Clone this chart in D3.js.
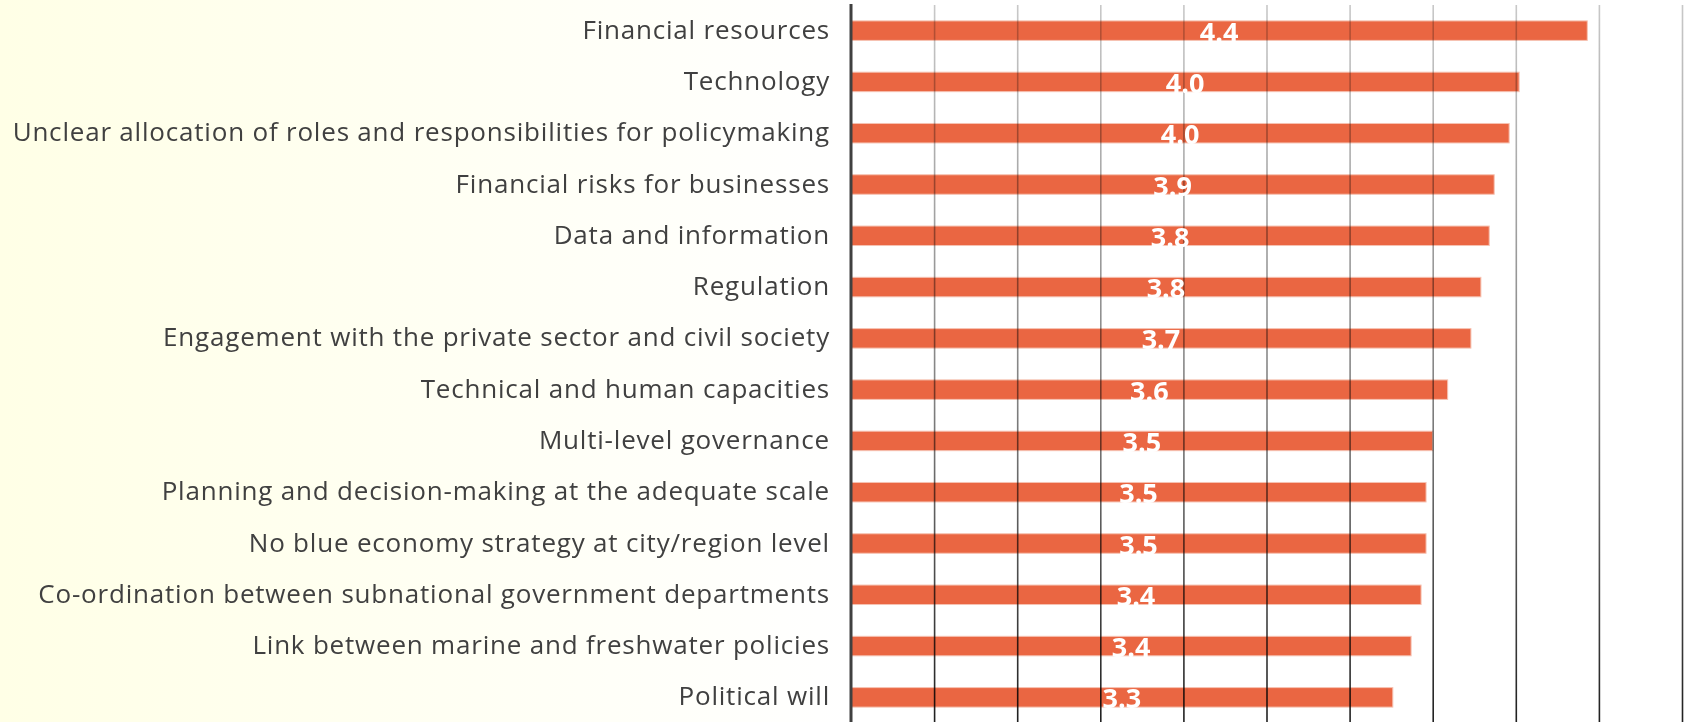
<!DOCTYPE html>
<html>
<head>
<meta charset="utf-8">
<script src="https://cdn.jsdelivr.net/npm/d3@7"></script>
<style>
  html, body { margin: 0; padding: 0; background: #fff; }
  #chart { width: 1686px; height: 722px; overflow: hidden; }
</style>
</head>
<body>
<div id="chart"></div>
<script>
// data, top to bottom
var categories = [
  "Financial resources",
  "Technology",
  "Unclear allocation of roles and responsibilities for policymaking",
  "Financial risks for businesses",
  "Data and information",
  "Regulation",
  "Engagement with the private sector and civil society",
  "Technical and human capacities",
  "Multi-level governance",
  "Planning and decision-making at the adequate scale",
  "No blue economy strategy at city/region level",
  "Co-ordination between subnational government departments",
  "Link between marine and freshwater policies",
  "Political will"
];
var scores = [4.43, 4.02, 3.96, 3.87, 3.84, 3.79, 3.73, 3.59, 3.50, 3.46, 3.46, 3.43, 3.37, 3.26];
var xDomain = [0, 5];

var data = categories.map((c, i) => ({name: c, result: scores[i]}));

// dimensions
var width = 1686, height = 722;
var margin = {top: 5, right: 4, bottom: -1, left: 851};

var svg = d3.select("#chart")
    .append("svg")
    .attr("width", width)
    .attr("height", height);

var defs = svg.append("defs");

// pale yellow wash on the left
var bg = defs.append("linearGradient")
    .attr("id", "bgGrad")
    .attr("x1", 0).attr("x2", 1).attr("y1", 0).attr("y2", 0);
bg.append("stop").attr("offset", "0%").attr("stop-color", "#ffffe6");
bg.append("stop").attr("offset", "100%").attr("stop-color", "#ffffff");

// gridlines go from light grey at the top to near black at the bottom
var gg = defs.append("linearGradient")
    .attr("id", "gridGrad")
    .attr("gradientUnits", "userSpaceOnUse")
    .attr("x1", 0).attr("x2", 0).attr("y1", 0).attr("y2", height);
gg.append("stop").attr("offset", "0%").attr("stop-color", "#c8c8c8");
gg.append("stop").attr("offset", "55%").attr("stop-color", "#808080");
gg.append("stop").attr("offset", "100%").attr("stop-color", "#1e1e1e");

svg.append("rect")
    .attr("x", 0).attr("y", 0)
    .attr("width", margin.left).attr("height", height)
    .attr("fill", "url(#bgGrad)");

// scales
var xScale = d3.scaleLinear().domain(xDomain).range([margin.left, width - margin.right]);
var yScale = d3.scaleBand()
    .domain(categories)
    .range([margin.top, height - margin.bottom])
    .paddingInner(0.62)
    .paddingOuter(0.31);

// bars
svg.append("g")
    .selectAll("rect")
    .data(data)
    .enter()
    .append("rect")
    .attr("x", xScale(0))
    .attr("y", d => yScale(d.name))
    .attr("width", d => xScale(d.result) - xScale(0))
    .attr("height", yScale.bandwidth())
    .attr("fill", "#ea6642")
    .attr("stroke", "#f6c2b2")
    .attr("stroke-width", 1);

// vertical gridlines (drawn over bars, multiplied)
var grid = d3.axisTop(xScale)
    .tickValues(xScale.ticks(10).filter(t => t > 0))
    .tickSize(-(height - margin.top + 2))
    .tickFormat("");

svg.append("g")
    .attr("class", "grid")
    .attr("transform", `translate(0,${margin.top})`)
    .call(grid)
    .call(g => g.select(".domain").remove())
    .call(g => g.selectAll("line")
        .attr("stroke", "url(#gridGrad)")
        .attr("stroke-width", 1.6)
        .style("mix-blend-mode", "multiply"));

// value axis line on the left
svg.append("line")
    .attr("x1", xScale(0)).attr("x2", xScale(0))
    .attr("y1", 4).attr("y2", height)
    .attr("stroke", "#404040")
    .attr("stroke-width", 3);

// category labels
svg.append("g")
    .selectAll("text")
    .data(data)
    .enter()
    .append("text")
    .attr("x", xScale(0) - 21)
    .attr("y", d => yScale(d.name) + yScale.bandwidth() / 2)
    .attr("dy", "0.31em")
    .attr("text-anchor", "end")
    .attr("font-family", "'Open Sans', sans-serif")
    .attr("font-size", "26px")
    .attr("letter-spacing", "0.8px")
    .attr("fill", "#404040")
    .text(d => d.name);

// value labels centred in each bar
svg.append("g")
    .selectAll("text")
    .data(data)
    .enter()
    .append("text")
    .attr("x", d => (xScale(0) + xScale(d.result)) / 2)
    .attr("y", d => yScale(d.name) + yScale.bandwidth() / 2 + 11)
    .attr("text-anchor", "middle")
    .attr("font-family", "'Open Sans', sans-serif")
    .attr("font-weight", "bold")
    .attr("font-size", "27px")
    .attr("fill", "#ffffff")
    .text(d => d3.format(".1f")(d.result));
</script>
</body>
</html>
